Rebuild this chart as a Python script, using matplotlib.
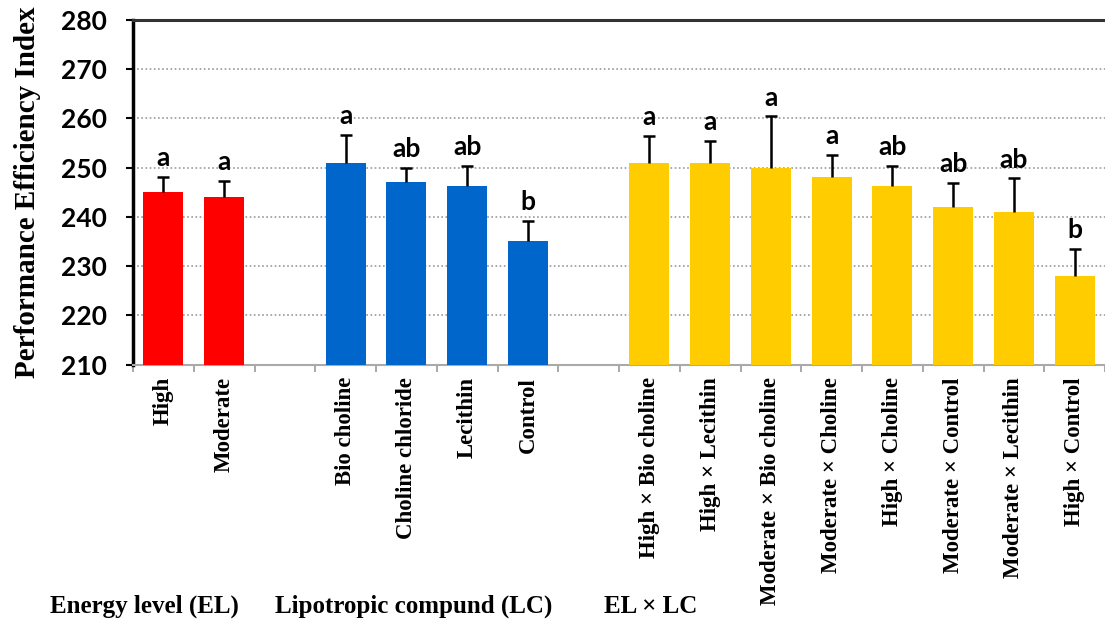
import matplotlib.pyplot as plt
import numpy as np

# data
el_labels = ['High', 'Moderate']
el_means = [245.0, 244.0]
el_err = [3.2, 3.3]
el_letters = ['a', 'a']

lc_labels = ['Bio choline', 'Choline chloride', 'Lecithin', 'Control']
lc_means = [251.0, 247.0, 246.2, 235.0]
lc_err = [5.6, 2.9, 4.1, 4.1]
lc_letters = ['a', 'ab', 'ab', 'b']

int_labels = ['High \u00d7 Bio choline', 'High \u00d7 Lecithin', 'Moderate \u00d7 Bio choline',
              'Moderate \u00d7 Choline', 'High \u00d7 Choline', 'Moderate \u00d7 Control',
              'Moderate \u00d7 Lecithin', 'High \u00d7 Control']
int_means = [251.0, 251.0, 250.0, 248.0, 246.2, 242.0, 241.0, 228.0]
int_err = [5.5, 4.5, 10.4, 4.6, 4.1, 4.9, 6.8, 5.5]
int_letters = ['a', 'a', 'a', 'a', 'ab', 'ab', 'ab', 'b']

group_titles = ['Energy level (EL)', 'Lipotropic compund (LC)', 'EL \u00d7 LC']

groups = [(el_labels, el_means, el_err, el_letters, '#ff0000'),
          (lc_labels, lc_means, lc_err, lc_letters, '#0066cc'),
          (int_labels, int_means, int_err, int_letters, '#ffcc00')]

fig = plt.figure(figsize=(11.05, 6.21), dpi=100)
ax = fig.add_axes([0.1204, 0.413, 0.8796, 0.5548])

start = 0
all_pos = []
all_lab = []
for labels, means, errs, letters, col in groups:
    x = np.arange(start, start + len(labels))
    m = np.array(means)
    e = np.array(errs)
    ax.bar(x, m - 210, bottom=210, width=0.66, color=col, zorder=3)
    # upper error bar only, cap on top
    ax.vlines(x, m, m + e, color='black', linewidth=1.8, zorder=4)
    ax.plot(x, m + e, linestyle='none', marker='_', markersize=9,
            markeredgewidth=1.8, color='black', zorder=4)
    for xi, top, t in zip(x, m + e, letters):
        ax.annotate(t, (xi, top), xytext=(0, 5), textcoords='offset points',
                    ha='center', va='bottom', fontsize=19, fontweight='bold',
                    family='Lato')
    all_pos += list(x)
    all_lab += labels
    start += len(labels) + 1

ax.set_xlim(-0.5, 15.45)
ax.set_ylim(210, 280)
ax.set_yticks(np.arange(210, 281, 10))
ax.set_yticklabels([str(v) for v in range(210, 281, 10)], fontsize=19,
                   fontweight='bold', family='Lato')
ax.set_xticks(all_pos)
ax.set_xticklabels(all_lab, rotation=90, fontsize=16.5, fontweight='bold',
                   family='Liberation Serif')
ax.set_xticks(np.arange(-0.5, 16, 1), minor=True)
ax.tick_params(axis='x', which='major', length=0, pad=9)
ax.tick_params(axis='x', which='minor', length=5, color='#999999', width=1.2)
ax.tick_params(axis='y', length=5, width=1.5, color='black', pad=14)

for yv in range(220, 280, 10):
    ax.axhline(yv, color='#999999', linestyle=(0, (1, 1.5)), linewidth=1.2, zorder=1)

ax.spines['left'].set_linewidth(2.5)
ax.spines['left'].set_color('black')
ax.spines['top'].set_linewidth(2.2)
ax.spines['top'].set_color('#333333')
ax.spines['bottom'].set_color('#aaaaaa')
ax.spines['bottom'].set_linewidth(1.5)
ax.spines['right'].set_visible(False)

ax.set_ylabel('Performance Efficiency Index', fontsize=21, fontweight='bold',
              family='Liberation Serif', labelpad=14)

for xf, t in zip([0.0452, 0.249, 0.547], group_titles):
    fig.text(xf, 0.024, t, fontsize=18, fontweight='bold',
             family='Liberation Serif', ha='left', va='center')

fig.savefig('out.png', dpi=100)
